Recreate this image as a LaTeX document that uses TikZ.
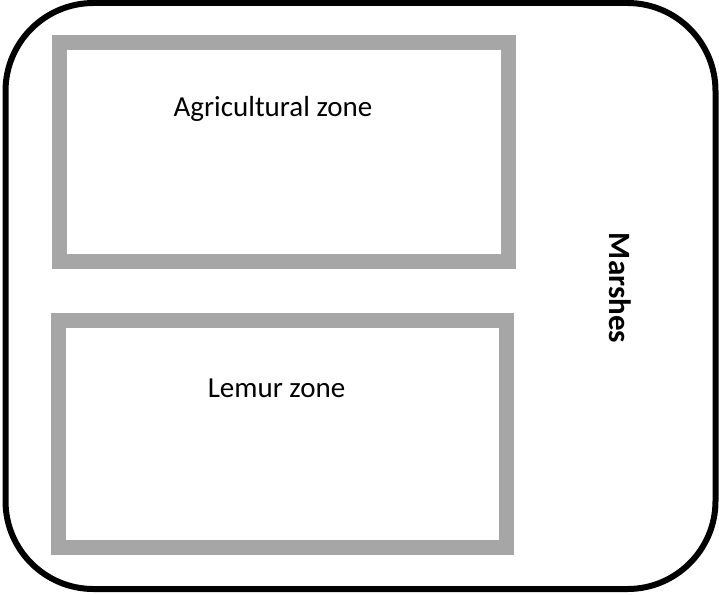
\documentclass[tikz,border=0pt]{standalone}
\usepackage{fontspec}
\setmainfont{Carlito}
\usetikzlibrary{positioning}
\definecolor{zoneGray}{RGB}{166,166,166}
\colorlet{penColor}{black}
\tikzset{zone/.style={draw=zoneGray,line width=15pt},
  zonelabel/.style={inner sep=0pt,anchor=base,font=\fontsize{29}{34}\selectfont}}

\begin{document}
\begin{tikzpicture}[x=1pt,y=-1pt]
  \useasboundingbox (0,0) rectangle (719,594);
  % outer boundary
  \coordinate (NW) at (5.5,3);
  \coordinate (SE) at (715.5,589);
  \draw[penColor,line width=6pt,rounded corners=88pt] (NW) rectangle (SE);
  % the two zones
  \coordinate (A1) at (59.5,43);
  \coordinate (A2) at (508,261);
  \coordinate (L1) at (58,320);
  \coordinate (L2) at (506.5,547);
  \draw[zone] (A1) rectangle (A2);
  \draw[zone] (L1) rectangle (L2);
  \node[zonelabel] (agri) at (273,116) {Agricultural zone};
  \node[zonelabel] (lemur) at (276.5,397) {Lemur zone};
  \node[zonelabel,font=\fontsize{31}{36}\selectfont\bfseries,rotate=-90] (marsh) at (609,288) {Marshes};
\end{tikzpicture}
\end{document}
